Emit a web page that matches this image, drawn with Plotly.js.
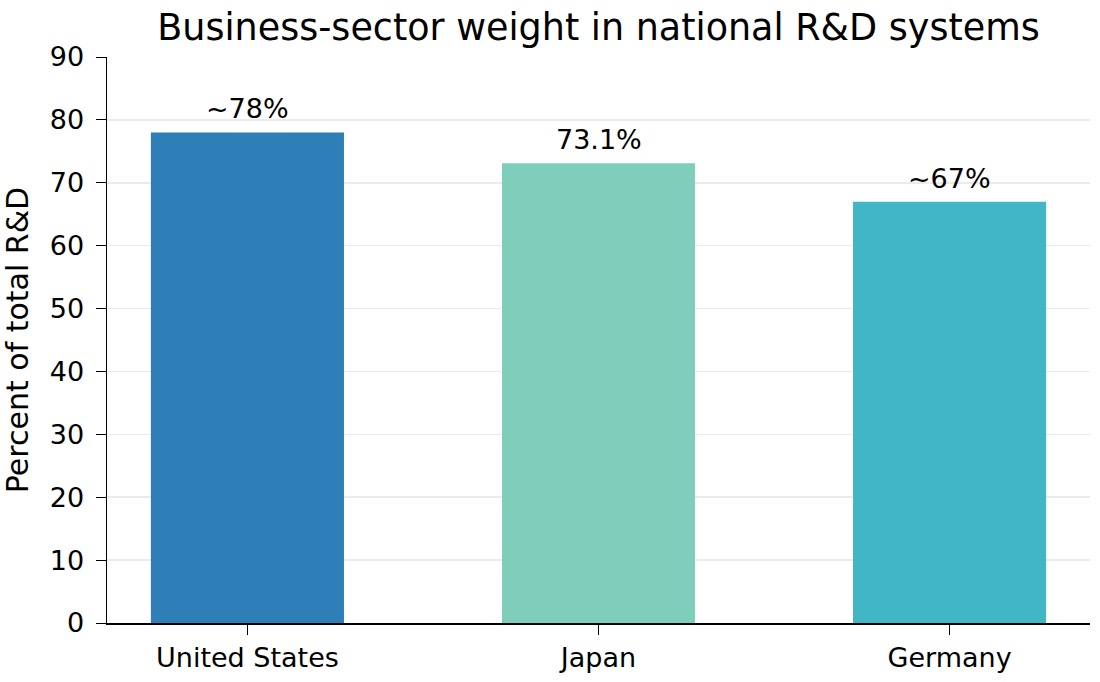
<!DOCTYPE html>
<html>
<head>
<meta charset="utf-8">
<script src="https://cdn.plot.ly/plotly-3.0.1.min.js"></script>
<style>
  html, body { margin: 0; padding: 0; background: #fff; }
  #chart { width: 1100px; height: 682px; }
</style>
</head>
<body>
<div id="chart"></div>
<script>
// business share of total R&D, by country
const countries = ['United States', 'Japan', 'Germany'];
const shares = [78, 73.1, 67];
const labels = ['~78%', '73.1%', '~67%'];
const colors = ['#2E7EB8', '#7FCDBB', '#41B6C4'];

const trace = {
  x: countries,
  y: shares,
  type: 'bar',
  width: 0.55,
  marker: { color: colors },
  hoverinfo: 'none'
};

// value labels sit a little above each bar
const notes = countries.map((c, i) => ({
  x: c, y: shares[i], xref: 'x', yref: 'y',
  text: labels[i], showarrow: false,
  yanchor: 'bottom', yshift: 6,
  font: { size: 27, color: '#000' }
}));

const layout = {
  width: 1100,
  height: 682,
  margin: { l: 107, r: 10, t: 57, b: 59 },
  paper_bgcolor: '#fff',
  plot_bgcolor: '#fff',
  font: { family: 'DejaVu Sans, sans-serif', color: '#000' },
  title: {
    text: 'Business-sector weight in national R&D systems',
    font: { size: 36.5, color: '#000' },
    x: 0.5, xref: 'paper', y: 0.96, yanchor: 'middle'
  },
  showlegend: false,
  annotations: notes,
  xaxis: {
    range: [-0.4, 2.4],
    showline: true, linecolor: '#000', linewidth: 1.5,
    ticks: 'outside', ticklen: 10, tickcolor: '#000',
    tickfont: { size: 27 },
    showgrid: false, zeroline: false
  },
  yaxis: {
    range: [0, 90],
    dtick: 10,
    showline: true, linecolor: '#000', linewidth: 1.5,
    ticks: 'outside', ticklen: 10, tickcolor: '#000',
    ticklabelstandoff: 6,
    tickfont: { size: 27 },
    gridcolor: '#ebebeb', gridwidth: 1.5,
    zeroline: false,
    title: { text: 'Percent of total R&D', font: { size: 30 }, standoff: 14 }
  }
};

Plotly.newPlot('chart', [trace], layout, { displayModeBar: false, staticPlot: true });
</script>
</body>
</html>
